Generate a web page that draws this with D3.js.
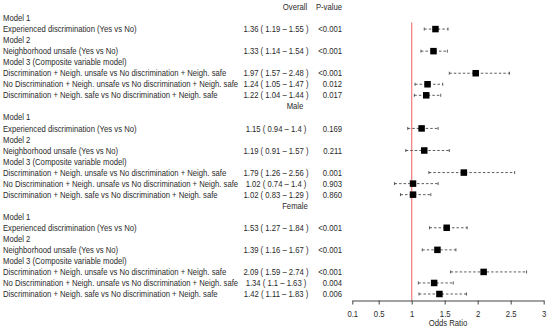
<!DOCTYPE html>
<html>
<meta charset="utf-8">
<head>
<script src="https://d3js.org/d3.v7.min.js"></script>
<title>forest plot</title>
<style>
html, body {
	margin: 0;
	padding: 0;
	background: #fff;
}
svg {
	display: block;
	font-family: 'Liberation Sans', Arial, sans-serif;
}
</style>
</head>
<body>
<svg></svg>
<script>
var width = 550;
var height = 330;

// groups and row labels
var groups = ["Overall", "Male", "Female"];
var rowLabels = [
	"Model 1",
	"Experienced discrimination (Yes vs No)",
	"Model 2",
	"Neighborhood unsafe (Yes vs No)",
	"Model 3 (Composite variable model)",
	"Discrimination + Neigh. unsafe vs No discrimination + Neigh. safe",
	"No Discrimination + Neigh. unsafe vs No discrimination + Neigh. safe",
	"Discrimination + Neigh. safe vs No discrimination + Neigh. safe"
];
// which of the rowLabels carry an estimate
var dataRows = [1, 3, 5, 6, 7];

// odds ratios with 95% CI, p-values
var overallOR = [1.36, 1.33, 1.97, 1.24, 1.22];
var overallLo = [1.19, 1.14, 1.57, 1.05, 1.04];
var overallHi = [1.55, 1.54, 2.48, 1.47, 1.44];
var overallP = ["<0.001", "<0.001", "<0.001", "0.012", "0.017"];

var maleOR = [1.15, 1.19, 1.79, 1.02, 1.02];
var maleLo = [0.94, 0.91, 1.26, 0.74, 0.83];
var maleHi = [1.4, 1.57, 2.56, 1.4, 1.29];
var maleP = ["0.169", "0.211", "0.001", "0.903", "0.860"];

var femaleOR = [1.53, 1.39, 2.09, 1.34, 1.42];
var femaleLo = [1.27, 1.16, 1.59, 1.1, 1.11];
var femaleHi = [1.84, 1.67, 2.74, 1.63, 1.83];
var femaleP = ["<0.001", "<0.001", "<0.001", "0.004", "0.006"];

var tickValues = [0.1, 0.5, 1, 1.5, 2, 2.5, 3];
var tickLabels = ["0.1", "0.5", "1", "1.5", "2", "2.5", "3"];

// build table of rows
var series = [
	{or: overallOR, lo: overallLo, hi: overallHi, p: overallP},
	{or: maleOR, lo: maleLo, hi: maleHi, p: maleP},
	{or: femaleOR, lo: femaleLo, hi: femaleHi, p: femaleP}
];
var headers = [];
var rows = [];
var marks = [];
groups.forEach(function(g, gi) {
	var base = gi * (rowLabels.length + 1);
	headers.push({text: g, idx: base});
	rowLabels.forEach(function(l, li) {
		rows.push({text: l, idx: base + 1 + li});
	});
	dataRows.forEach(function(li, k) {
		var s = series[gi];
		marks.push({
			idx: base + 1 + li,
			or: s.or[k], lo: s.lo[k], hi: s.hi[k], p: s.p[k]
		});
	});
});
var nRows = groups.length * (rowLabels.length + 1);

var svg = d3.select("svg")
	.attr("width", width)
	.attr("height", height);

var y = d3.scaleLinear().domain([0, nRows - 1]).range([7, 294]);
var x = d3.scaleLinear().domain([0.1, 3]).range([352.3, 543.7]);
var axisY = 300.5;
// the source text is a little narrow for its height
var fs = "8.6px";
var sx = 0.895;
var ink = "#2a2a2a";

// text layer, squeezed horizontally
var tg = svg.append("g").attr("transform", "scale(" + sx + ",1)");

function addText(sel, xpos, anchor) {
	return sel.enter().append("text")
		.attr("x", xpos / sx)
		.attr("y", function(d) { return y(d.idx); })
		.attr("dy", "0.36em")
		.attr("text-anchor", anchor)
		.style("font-size", fs)
		.style("fill", ink);
}

// left labels
addText(tg.append("g").selectAll("text").data(rows), 3, "start")
	.text(function(d) { return d.text; });

// group headers
addText(tg.append("g").selectAll("text").data(headers), 295, "middle")
	.text(function(d) { return d.text; });

addText(tg.append("g").selectAll("text").data([{idx: 0}]), 342, "end")
	.text("P-value");

// estimate text
addText(tg.append("g").selectAll("text").data(marks), 276, "middle")
	.text(function(d) { return d.or + " ( " + d.lo + " \u2013 " + d.hi + " )"; });

// p-values
addText(tg.append("g").selectAll("text").data(marks), 342, "end")
	.text(function(d) { return d.p; });

// reference line at OR = 1
svg.append("line")
	.attr("x1", x(1)).attr("x2", x(1))
	.attr("y1", y(1.4)).attr("y2", axisY)
	.style("stroke", "#f27a7a")
	.style("stroke-width", 1.2);

// confidence intervals
var ci = svg.append("g")
	.selectAll("g")
	.data(marks)
	.enter().append("g");

ci.append("line")
	.attr("x1", function(d) { return x(d.lo); })
	.attr("x2", function(d) { return x(d.hi); })
	.attr("y1", function(d) { return y(d.idx); })
	.attr("y2", function(d) { return y(d.idx); })
	.style("stroke", "#333")
	.style("stroke-width", 0.8)
	.style("stroke-dasharray", "2.5,2");

ci.selectAll(".cap")
	.data(function(d) { return [{v: d.lo, idx: d.idx}, {v: d.hi, idx: d.idx}]; })
	.enter().append("line")
		.attr("class", "cap")
		.attr("x1", function(d) { return x(d.v); })
		.attr("x2", function(d) { return x(d.v); })
		.attr("y1", function(d) { return y(d.idx) - 1.5; })
		.attr("y2", function(d) { return y(d.idx) + 1.5; })
		.style("stroke", "#333")
		.style("stroke-width", 0.8);

var box = 6.5;
ci.append("rect")
	.attr("x", function(d) { return x(d.or) - box / 2; })
	.attr("y", function(d) { return y(d.idx) - box / 2; })
	.attr("width", box)
	.attr("height", box)
	.style("fill", "#000");

// x axis
var axis = svg.append("g")
	.attr("transform", "translate(0," + axisY + ")")
	.call(d3.axisBottom(x)
		.tickValues(tickValues)
		.tickFormat(function(d, i) { return tickLabels[i]; })
		.tickSize(4)
		.tickSizeOuter(0)
		.tickPadding(6));
axis.select(".domain").style("stroke", "#444");
axis.selectAll(".tick line").style("stroke", "#444");
axis.selectAll(".tick text")
	.attr("transform", "scale(" + sx + ",1)")
	.style("font-size", fs)
	.style("font-family", "'Liberation Sans', Arial, sans-serif")
	.style("fill", ink);

svg.append("text")
	.attr("transform", "translate(" + ((x.range()[0] + x.range()[1]) / 2) + ",323) scale(" + sx + ",1)")
	.attr("dy", "0.36em")
	.attr("text-anchor", "middle")
	.style("font-size", fs)
	.style("fill", ink)
	.text("Odds Ratio");
</script>
</body>
</html>
